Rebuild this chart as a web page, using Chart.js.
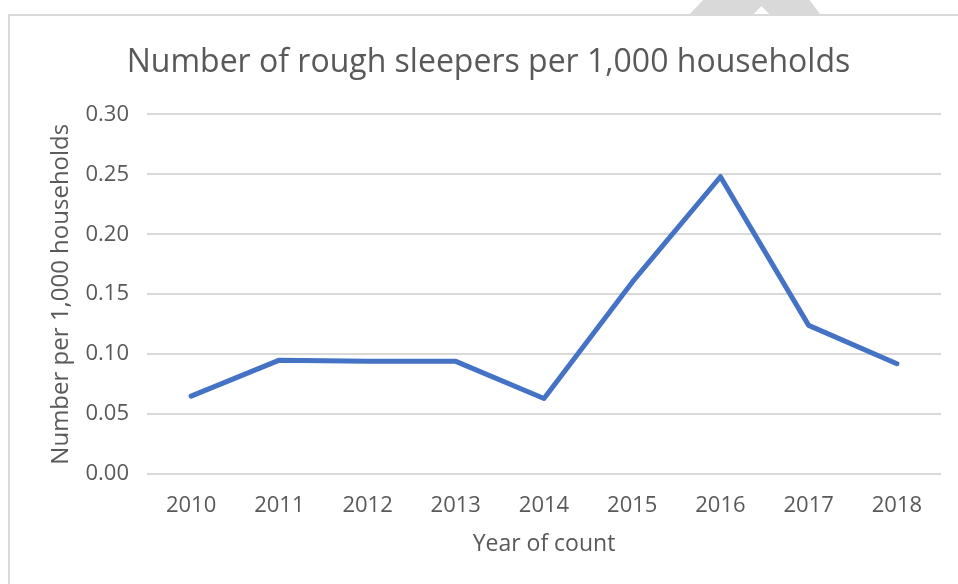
<!DOCTYPE html>
<html>
<head>
<meta charset="utf-8">
<script src="https://cdn.jsdelivr.net/npm/chart.js@4.4.1/dist/chart.umd.min.js"></script>
<style>
  body { margin: 0; background: #fff; }
  #frame {
    position: absolute; left: 8px; top: 14px; right: 0; bottom: 0;
    border-left: 2px solid #d9d9d9; border-top: 2px solid #d9d9d9;
  }
  #mark {
    position: absolute; left: 690px; top: 0; width: 130px; height: 14px;
    background: #d9d9d9;
    clip-path: polygon(0 100%, 10% 0, 92% 0, 100% 100%, 61% 100%, 55% 45%, 49% 100%);
  }
  #wrap { position: absolute; left: 0; top: 0; width: 958px; height: 584px; }
</style>
</head>
<body>
<div id="mark"></div>
<div id="frame"></div>
<div id="wrap"><canvas id="myChart"></canvas></div>
<script>
const years = ['2010', '2011', '2012', '2013', '2014', '2015', '2016', '2017', '2018'];
const perThousand = [0.065, 0.095, 0.094, 0.094, 0.063, 0.160, 0.248, 0.124, 0.092];
const yTicks = [0, 0.05, 0.10, 0.15, 0.20, 0.25, 0.30];

const textColor = '#595959';
const gridColor = '#d9d9d9';
const fontName = "'Open Sans', sans-serif";

const data = {
  labels: years,
  datasets: [{
    label: 'Number per 1,000 households',
    data: perThousand,
    borderColor: '#4472C4',
    backgroundColor: '#4472C4',
    borderWidth: 5,
    pointRadius: 0,
    tension: 0,
    borderCapStyle: 'round',
    borderJoinStyle: 'round'
  }]
};

const options = {
  responsive: true,
  maintainAspectRatio: false,
  animation: false,
  layout: {
    padding: { left: 36, right: 17, top: 0, bottom: 0 }
  },
  plugins: {
    legend: { display: false },
    tooltip: { enabled: false },
    title: {
      display: true,
      text: 'Number of rough sleepers per 1,000 households',
      color: textColor,
      font: { family: fontName, size: 32, weight: 'normal' },
      padding: { top: 44, bottom: 32 }
    }
  },
  scales: {
    x: {
      offset: true,
      grid: { display: false },
      border: { display: false },
      ticks: {
        color: textColor,
        font: { family: fontName, size: 22 },
        padding: 11,
        maxRotation: 0
      },
      title: {
        display: true,
        text: 'Year of count',
        color: textColor,
        font: { family: fontName, size: 23 },
        padding: { top: 6, bottom: 26 }
      },
      afterFit: (scale) => { scale.height = 584 - 474; }
    },
    y: {
      min: 0,
      max: 0.3,
      afterBuildTicks: (scale) => { scale.ticks = yTicks.map(v => ({ value: v })); },
      grid: { color: gridColor, lineWidth: 2, drawTicks: false },
      border: { display: false },
      ticks: {
        color: textColor,
        font: { family: fontName, size: 22 },
        padding: 18,
        callback: (v) => Number(v).toFixed(2)
      },
      title: {
        display: true,
        text: 'Number per 1,000 households',
        color: textColor,
        font: { family: fontName, size: 24 },
        padding: { top: 11, bottom: 0 }
      },
      afterFit: (scale) => { scale.width = 147 - 36; }
    }
  }
};

let myChart = new Chart(document.querySelector('#myChart'), {
  type: 'line',
  data: data,
  options: options
});
</script>
</body>
</html>
